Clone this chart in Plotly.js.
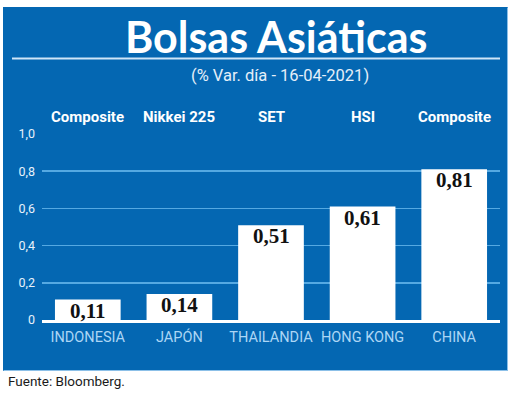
<!DOCTYPE html>
<html>
<head>
<meta charset="utf-8">
<script src="https://cdn.plot.ly/plotly-3.0.1.min.js"></script>
<style>
html,body{margin:0;padding:0;background:#fff;}
#wrap{position:relative;width:520px;height:397px;}
#panel{position:absolute;left:3px;top:7px;width:503px;height:362px;background:#0467b2;border:1px solid #8cc0e8;border-left-color:#0467b2;border-top-color:#0467b2;}
#chart{position:absolute;left:0;top:0;width:520px;height:397px;}
</style>
</head>
<body>
<div id="wrap"><div id="panel"></div><div id="chart"></div></div>
<script>
const countries = ["INDONESIA", "JAPÓN", "THAILANDIA", "HONG KONG", "CHINA"];
const indexNames = ["Composite", "Nikkei 225", "SET", "HSI", "Composite"];
const values = [0.11, 0.14, 0.51, 0.61, 0.81];
const valueLabels = ["0,11", "0,14", "0,51", "0,61", "0,81"];
const yTickVals = [0, 0.2, 0.4, 0.6, 0.8, 1.0];
const yTickText = ["0", "0,2", "0,4", "0,6", "0,8", "1,0"];

const W = 520, H = 397;
const m = {l: 42, r: 20, t: 134, b: 77};
const pw = W - m.l - m.r, ph = H - m.t - m.b;
const px = x => (x - m.l) / pw;
const py = y => (H - m.b - y) / ph;

const annotations = [];
countries.forEach((c, i) => {
  annotations.push({
    x: c, y: values[i], xref: 'x', yref: 'y', yanchor: 'top', yshift: 3,
    text: valueLabels[i], showarrow: false,
    font: {family: 'Liberation Serif, DejaVu Serif, serif', size: 21, color: '#111', weight: 700}
  });
  annotations.push({
    x: c, y: py(117), xref: 'x', yref: 'paper', yanchor: 'middle',
    text: indexNames[i], showarrow: false,
    font: {family: 'Roboto, sans-serif', size: 15, color: '#ffffff', weight: 700}
  });
});
annotations.push({
  x: px(276), y: py(36), xref: 'paper', yref: 'paper', xanchor: 'center', yanchor: 'middle',
  text: 'Bolsas Asiáticas', showarrow: false,
  font: {family: 'Lato, sans-serif', size: 43, color: '#ffffff', weight: 700}
});
annotations.push({
  x: px(280), y: py(75), xref: 'paper', yref: 'paper', xanchor: 'center', yanchor: 'middle',
  text: '(% Var. día - 16-04-2021)', showarrow: false,
  font: {family: 'Roboto, sans-serif', size: 16.5, color: '#e4eff9'}
});
annotations.push({
  x: px(6), y: py(381), xref: 'paper', yref: 'paper', xanchor: 'left', yanchor: 'middle',
  text: 'Fuente: Bloomberg.', showarrow: false,
  font: {family: 'Roboto, sans-serif', size: 13.5, color: '#1a1a1a'}
});

const shapes = [
  {type: 'line', xref: 'paper', yref: 'paper', x0: px(12), x1: px(500), y0: py(58.5), y1: py(58.5),
   line: {color: '#cfe6f8', width: 2}}
];

const trace = {
  type: 'bar', x: countries, y: values,
  marker: {color: '#ffffff', line: {width: 0}},
  hoverinfo: 'none'
};

const layout = {
  width: W, height: H,
  margin: m,
  paper_bgcolor: 'rgba(0,0,0,0)',
  plot_bgcolor: 'rgba(0,0,0,0)',
  showlegend: false,
  bargap: 0.283,
  xaxis: {
    type: 'category', showline: true, linecolor: '#ffffff', linewidth: 3,
    showgrid: false, ticks: '', ticklabelstandoff: 2,
    tickfont: {family: 'Roboto, sans-serif', size: 14.5, color: '#acd6f5'}
  },
  yaxis: {
    range: [0, 1.0], tickvals: yTickVals, ticktext: yTickText,
    showgrid: true, gridcolor: '#55a9e2', gridwidth: 1.5, zeroline: false,
    showline: false, ticks: '', ticklabelstandoff: 6,
    tickfont: {family: 'Roboto, sans-serif', size: 12.5, color: '#e8f2fb'}
  },
  shapes: shapes,
  annotations: annotations
};

Plotly.newPlot('chart', [trace], layout, {displayModeBar: false, staticPlot: true});
</script>
</body>
</html>
